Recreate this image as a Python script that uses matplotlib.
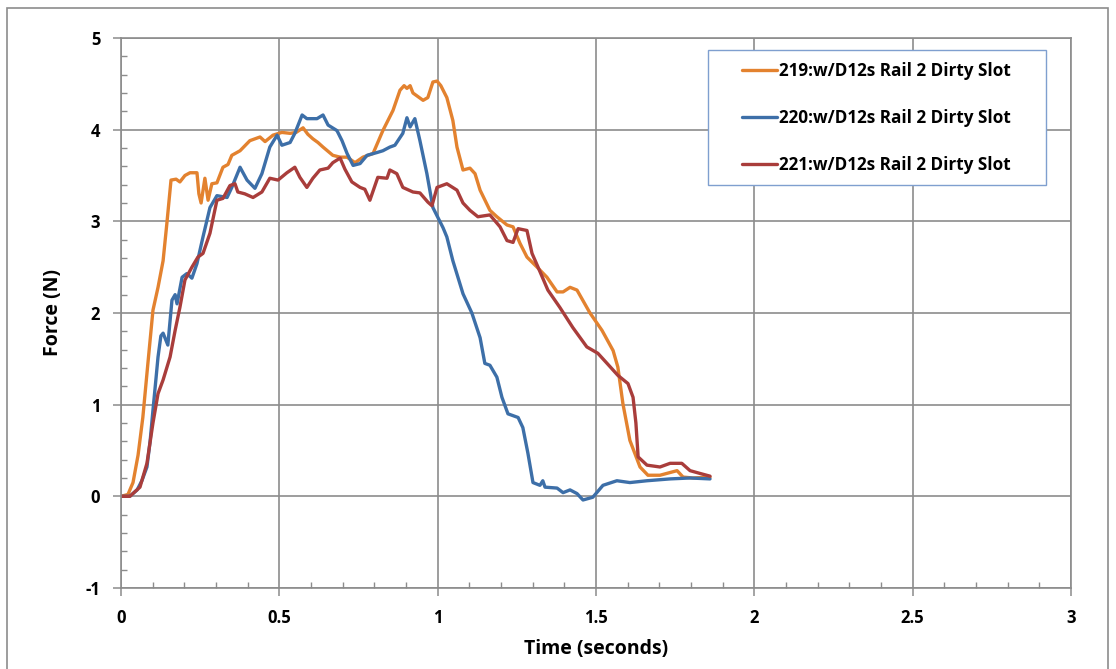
import matplotlib
matplotlib.use("Agg")
import matplotlib.pyplot as plt
from matplotlib.patches import Rectangle
from matplotlib.ticker import MultipleLocator

# 219 - orange trace
t_219 = [0.000, 0.022, 0.038, 0.054, 0.069, 0.085, 0.101, 0.117, 0.133, 0.145,
         0.158, 0.174, 0.186, 0.202, 0.218, 0.240, 0.246, 0.253, 0.265, 0.275,
         0.287, 0.303, 0.322, 0.338, 0.350, 0.376, 0.407, 0.439, 0.455, 0.480,
         0.508, 0.534, 0.553, 0.575, 0.590, 0.606, 0.622, 0.638, 0.669, 0.692,
         0.714, 0.739, 0.764, 0.796, 0.827, 0.859, 0.881, 0.894, 0.903, 0.913,
         0.922, 0.954, 0.969, 0.985, 0.998, 1.010, 1.029, 1.048, 1.061, 1.080,
         1.102, 1.118, 1.134, 1.165, 1.187, 1.219, 1.238, 1.260, 1.282, 1.314,
         1.345, 1.377, 1.396, 1.418, 1.440, 1.481, 1.519, 1.554, 1.569, 1.585,
         1.607, 1.639, 1.664, 1.702, 1.756, 1.775, 1.806, 1.860]
f_219 = [0.00, 0.02, 0.15, 0.45, 0.86, 1.45, 2.03, 2.28, 2.57, 2.98,
         3.45, 3.46, 3.43, 3.50, 3.53, 3.53, 3.30, 3.20, 3.47, 3.23,
         3.41, 3.42, 3.59, 3.62, 3.72, 3.77, 3.88, 3.92, 3.87, 3.94,
         3.97, 3.96, 3.97, 4.02, 3.95, 3.90, 3.86, 3.81, 3.72, 3.70,
         3.70, 3.64, 3.70, 3.74, 3.99, 4.21, 4.43, 4.48, 4.45, 4.48,
         4.40, 4.32, 4.35, 4.52, 4.53, 4.48, 4.35, 4.10, 3.81, 3.56,
         3.58, 3.52, 3.34, 3.12, 3.05, 2.96, 2.94, 2.76, 2.61, 2.50,
         2.39, 2.23, 2.23, 2.28, 2.25, 2.00, 1.81, 1.59, 1.41, 1.01,
         0.61, 0.32, 0.23, 0.23, 0.28, 0.21, 0.20, 0.21]

# 220 - blue trace
t_220 = [0.000, 0.028, 0.051, 0.066, 0.082, 0.092, 0.101, 0.111, 0.117, 0.126,
         0.133, 0.148, 0.161, 0.171, 0.177, 0.193, 0.208, 0.224, 0.240, 0.259,
         0.281, 0.303, 0.335, 0.350, 0.376, 0.398, 0.423, 0.445, 0.470, 0.493,
         0.508, 0.534, 0.549, 0.572, 0.587, 0.619, 0.638, 0.654, 0.682, 0.698,
         0.714, 0.733, 0.755, 0.777, 0.808, 0.827, 0.849, 0.865, 0.890, 0.903,
         0.913, 0.928, 0.944, 0.966, 0.985, 1.017, 1.029, 1.048, 1.080, 1.108,
         1.134, 1.149, 1.165, 1.187, 1.203, 1.222, 1.254, 1.269, 1.285, 1.301,
         1.323, 1.332, 1.339, 1.377, 1.396, 1.418, 1.440, 1.459, 1.490, 1.522,
         1.566, 1.607, 1.661, 1.734, 1.797, 1.860]
f_220 = [0.00, 0.00, 0.07, 0.17, 0.32, 0.60, 0.94, 1.30, 1.52, 1.75,
         1.78, 1.65, 2.14, 2.20, 2.10, 2.39, 2.43, 2.38, 2.54, 2.83,
         3.15, 3.28, 3.26, 3.37, 3.59, 3.45, 3.36, 3.52, 3.81, 3.94,
         3.83, 3.86, 3.96, 4.16, 4.12, 4.12, 4.16, 4.05, 3.99, 3.88,
         3.74, 3.61, 3.63, 3.72, 3.75, 3.77, 3.81, 3.83, 3.96, 4.13,
         4.03, 4.12, 3.88, 3.52, 3.15, 2.93, 2.83, 2.57, 2.21, 2.00,
         1.73, 1.45, 1.43, 1.30, 1.08, 0.90, 0.86, 0.75, 0.47, 0.15,
         0.12, 0.17, 0.10, 0.09, 0.04, 0.07, 0.03, -0.04, -0.01, 0.12,
         0.17, 0.15, 0.17, 0.19, 0.20, 0.19]

# 221 - red trace
t_221 = [0.000, 0.028, 0.060, 0.082, 0.101, 0.117, 0.133, 0.155, 0.171, 0.186,
         0.202, 0.224, 0.243, 0.259, 0.281, 0.303, 0.322, 0.344, 0.360, 0.369,
         0.391, 0.417, 0.445, 0.470, 0.496, 0.524, 0.549, 0.565, 0.587, 0.606,
         0.628, 0.654, 0.669, 0.692, 0.707, 0.729, 0.755, 0.770, 0.786, 0.811,
         0.840, 0.849, 0.871, 0.890, 0.922, 0.944, 0.969, 0.982, 0.998, 1.029,
         1.061, 1.080, 1.102, 1.127, 1.165, 1.197, 1.219, 1.238, 1.254, 1.282,
         1.298, 1.317, 1.348, 1.386, 1.427, 1.471, 1.506, 1.535, 1.569, 1.601,
         1.617, 1.626, 1.633, 1.661, 1.702, 1.734, 1.771, 1.797, 1.828, 1.860]
f_221 = [0.00, 0.00, 0.10, 0.36, 0.80, 1.12, 1.27, 1.52, 1.81, 2.06,
         2.36, 2.50, 2.61, 2.65, 2.87, 3.23, 3.25, 3.39, 3.41, 3.32,
         3.30, 3.26, 3.32, 3.47, 3.45, 3.53, 3.59, 3.48, 3.37, 3.47,
         3.56, 3.58, 3.64, 3.69, 3.57, 3.43, 3.37, 3.35, 3.23, 3.48,
         3.47, 3.56, 3.52, 3.37, 3.32, 3.31, 3.21, 3.17, 3.37, 3.41,
         3.34, 3.20, 3.12, 3.05, 3.07, 2.94, 2.79, 2.77, 2.92, 2.90,
         2.65, 2.50, 2.25, 2.06, 1.84, 1.63, 1.56, 1.45, 1.32, 1.23,
         1.08, 0.80, 0.43, 0.34, 0.32, 0.36, 0.36, 0.28, 0.25, 0.22]

labels = ["219:w/D12s Rail 2 Dirty Slot",
          "220:w/D12s Rail 2 Dirty Slot",
          "221:w/D12s Rail 2 Dirty Slot"]
colors = ["#E3822F", "#3D6FA8", "#A93D3B"]

plt.rcParams["font.family"] = ["Open Sans", "DejaVu Sans"]
plt.rcParams["font.weight"] = "bold"
plt.rcParams["axes.unicode_minus"] = False

grey = "#8C8C8C"

fig = plt.figure(figsize=(11.16, 6.69), dpi=100)
ax = fig.add_axes([0.1084, 0.1211, 0.8513, 0.8221])

for t, f, lab, c in zip([t_219, t_220, t_221], [f_219, f_220, f_221], labels, colors):
    ax.plot(t, f, color=c, lw=2.4, label=lab, solid_capstyle="round")

ax.set_xlim(0, 3)
ax.set_ylim(-1, 5)
ax.xaxis.set_major_locator(MultipleLocator(0.5))
ax.xaxis.set_minor_locator(MultipleLocator(0.1))
ax.yaxis.set_major_locator(MultipleLocator(1))
ax.yaxis.set_minor_locator(MultipleLocator(0.2))
ax.xaxis.set_major_formatter(plt.FuncFormatter(lambda v, p: f"{v:g}"))

ax.grid(True, which="major", color=grey, lw=1.2)
ax.set_axisbelow(True)
for s in ax.spines.values():
    s.set_color(grey)
    s.set_linewidth(1.2)

ax.tick_params(which="major", direction="out", length=6, width=1.1, color=grey,
               labelsize=12, pad=9)
ax.tick_params(which="minor", direction="in", length=4, width=1.0, color=grey)
for lbl in ax.get_xticklabels() + ax.get_yticklabels():
    lbl.set_fontweight("bold")

ax.set_xlabel("Time (seconds)", fontsize=14, fontweight="bold", labelpad=9)
ax.set_ylabel("Force (N)", fontsize=14, fontweight="bold", labelpad=16)

# legend box drawn separately so the entries can sit with wide margins
ax.add_patch(Rectangle((0.6179, 0.7327), 0.3558, 0.2455, transform=ax.transAxes,
                       facecolor="white", edgecolor="#7F9FCF", lw=1.0, zorder=4))
leg = ax.legend(loc="center left", bbox_to_anchor=(0.6537, 0.8545), fontsize=12.3,
                frameon=False, handlelength=2.05, handletextpad=0.1,
                labelspacing=1.72, borderpad=0, borderaxespad=0)
leg.set_zorder(5)
for txt in leg.get_texts():
    txt.set_fontweight("bold")

# outer chart frame
fig.patches.append(Rectangle((7 / 1116, -0.01), 1101 / 1116, 0.004 + 665 / 669,
                             transform=fig.transFigure, fill=False,
                             edgecolor=grey, lw=1.2))

fig.savefig("out.png", dpi=100)
